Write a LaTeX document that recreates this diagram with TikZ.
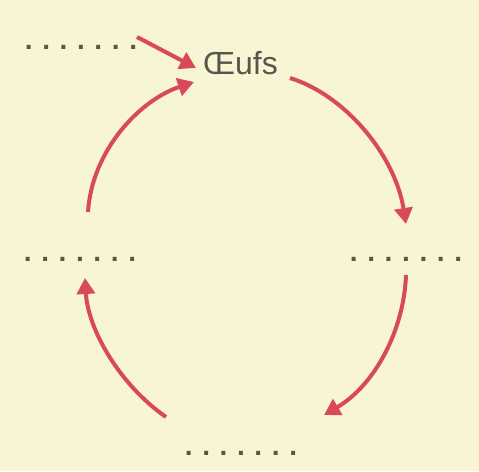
\documentclass[tikz,border=0pt]{standalone}
\usepackage{fontspec}
\setmainfont{Liberation Sans}
\usetikzlibrary{arrows.meta}
\definecolor{bgc}{HTML}{F8F5D4}
\definecolor{redc}{HTML}{D8495C}
\definecolor{txtc}{HTML}{57564E}
\begin{document}
\begin{tikzpicture}[x=1pt,y=-1pt,
  cyc/.style={draw=redc, line width=4pt, -{Triangle[length=16pt,width=18pt]}},
  blank/.style={inner sep=0pt, text=txtc, font=\bfseries\fontsize{28}{28}\selectfont},
  lbl/.style={inner sep=0pt, text=txtc, font=\fontsize{32}{32}\selectfont}]
\fill[bgc] (0,0) rectangle (479,471);
\useasboundingbox (0,0) rectangle (479,471);
\newcommand{\dotrow}{.\hspace{9.6pt}.\hspace{9.6pt}.\hspace{9.6pt}.\hspace{9.6pt}.\hspace{9.6pt}.\hspace{9.6pt}.}
\node[lbl, anchor=base west] (oeufs) at (203,74) {Œufs};
\node[blank, anchor=base] (d1) at (81,49) {\dotrow};
\node[blank, anchor=base] (d2) at (406,261) {\dotrow};
\node[blank, anchor=base] (d3) at (241,455) {\dotrow};
\node[blank, anchor=base] (d4) at (80,261) {\dotrow};
\coordinate (a1s) at (137,37);
\coordinate (a1e) at (196,68);
\coordinate (a2s) at (290,78);
\coordinate (a2e) at (406,224);
\coordinate (a3s) at (406,275);
\coordinate (a3e) at (324,415);
\coordinate (a4s) at (166,417);
\coordinate (a4e) at (85,278);
\coordinate (a5s) at (88,212);
\coordinate (a5e) at (194,82);
\draw[cyc] (a1s) -- (a1e);
\draw[cyc] (a2s) .. controls (345,95) and (395,155) .. (a2e);
\draw[cyc] (a3s) .. controls (404,330) and (375,385) .. (a3e);
\draw[cyc] (a4s) .. controls (120,385) and (88,330) .. (a4e);
\draw[cyc] (a5s) .. controls (92,150) and (140,100) .. (a5e);
\end{tikzpicture}
\end{document}
